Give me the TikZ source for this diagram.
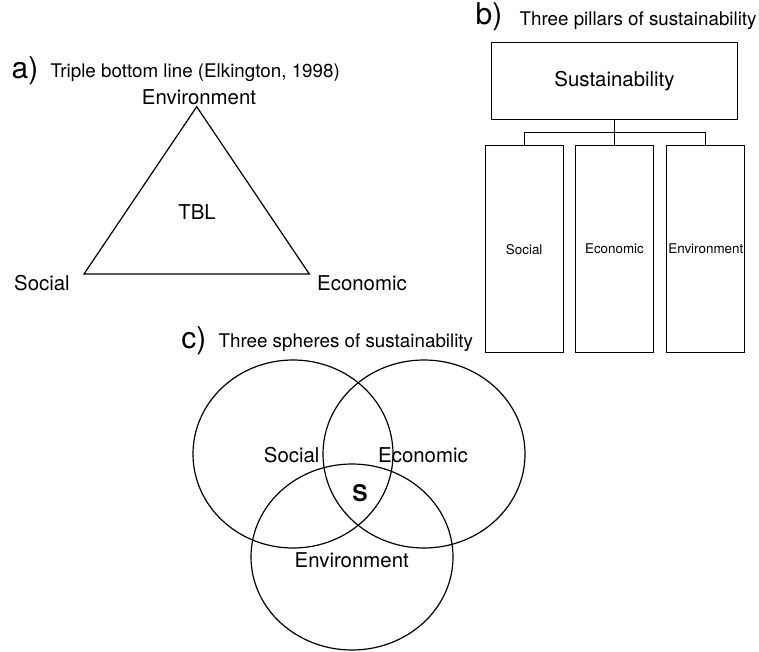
\documentclass[tikz,border=0pt]{standalone}
\usepackage{fontspec}
\setmainfont{TeX Gyre Heros}
\usetikzlibrary{calc}
\begin{document}
\begin{tikzpicture}[x=0.5pt,y=-0.5pt,line width=0.6pt,
  lbl/.style={inner sep=0pt,font=\fontsize{10.2pt}{12pt}\selectfont},
  ttl/.style={inner sep=0pt,font=\fontsize{9.4pt}{11pt}\selectfont},
  tag/.style={inner sep=0pt,font=\fontsize{15pt}{17pt}\selectfont},
  pil/.style={draw,inner sep=0pt,minimum width=39pt,minimum height=103.5pt,
    font=\fontsize{6.7pt}{8pt}\selectfont},
  topbox/.style={draw,inner sep=0pt,minimum width=123pt,minimum height=38.5pt,
    font=\fontsize{10.2pt}{12pt}\selectfont}]
\useasboundingbox (0,0) rectangle (759,652);

% a) triple bottom line
\node[tag,anchor=east] (ta) at (39,71) {a)};
\node[ttl,anchor=west] (tta) at (50,73) {Triple bottom line (Elkington, 1998)};
\coordinate (env) at (196.7,106.7);
\coordinate (soc) at (84,274);
\coordinate (eco) at (309.3,274);
\draw (env) -- (soc) -- (eco) -- cycle;
\node[lbl] (lenv) at (199,97) {Environment};
\node[lbl] (ltbl) at (197,212) {TBL};
\node[lbl] (lsoc) at (42,283) {Social};
\node[lbl] (leco) at (362,283) {Economic};

% b) three pillars
\node[tag,anchor=east] (tb) at (503,17) {b)};
\node[ttl,anchor=west] (ttb) at (519,21) {Three pillars of sustainability};
\node[topbox] (sus) at (614.5,80.7) {Sustainability};
\node[pil] (psoc) at (524.2,249.2) {Social};
\node[pil] (peco) at (614.5,249.2) {Economic};
\node[pil] (penv) at (705.8,249.2) {Environment};
\coordinate (jn) at ($(sus.south)!0.5!(peco.north)$);
\draw (sus.south) -- (peco.north);
\draw (psoc.north) |- (jn) -| (penv.north);

% c) three spheres
\node[tag,anchor=east] (tc) at (207,341) {c)};
\node[ttl,anchor=west] (ttc) at (218,343) {Three spheres of sustainability};
\draw (293,454) ellipse [x radius=100, y radius=94];
\draw (424,454) ellipse [x radius=101, y radius=94];
\draw (352,557) ellipse [x radius=101, y radius=93];
\node[lbl] (vsoc) at (291.7,455) {Social};
\node[lbl] (veco) at (423,455) {Economic};
\node[inner sep=0pt,font=\fontsize{11.5pt}{13pt}\selectfont\bfseries] (vs) at (360,493) {S};
\node[lbl] (venv) at (351.7,560) {Environment};
\end{tikzpicture}
\end{document}
